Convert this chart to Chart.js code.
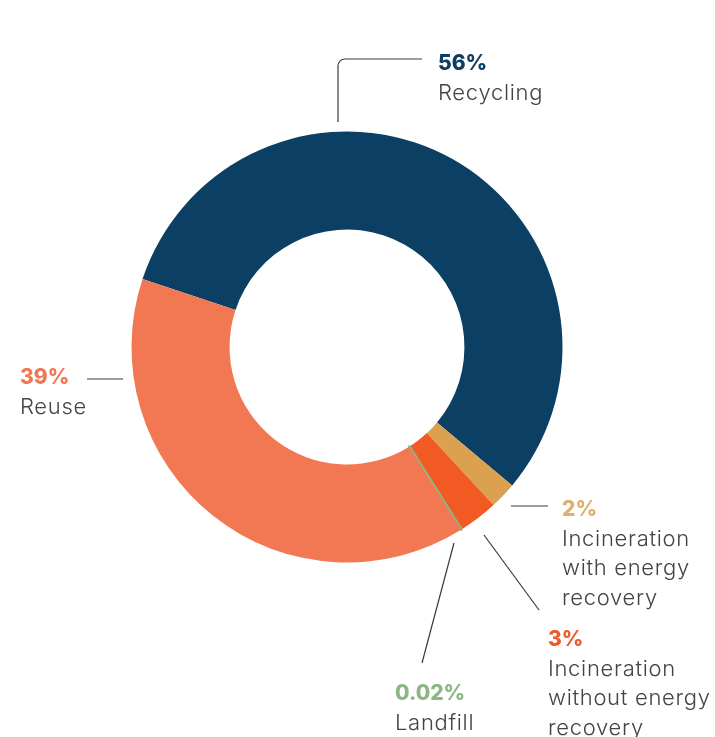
<!DOCTYPE html>
<html>
<head>
<meta charset="utf-8">
<script src="https://cdn.jsdelivr.net/npm/chart.js@4/dist/chart.umd.min.js"></script>
<style>
  html, body { margin: 0; padding: 0; background: #fff; }
  #wrap { width: 715px; height: 737px; }
</style>
</head>
<body>
<div id="wrap"><canvas id="wasteChart" width="715" height="737"></canvas></div>
<script>
// ---------------------------------------------------------------------------
// Data
// ---------------------------------------------------------------------------

const categories  = ['Recycling', 'Incineration with energy recovery',
                     'Incineration without energy recovery', 'Landfill', 'Reuse'];
const shares      = [56, 2, 3, 0.02, 39];
const shareLabels = ['56%', '2%', '3%', '0.02%', '39%'];
const nameLines   = [['Recycling'],
                     ['Incineration', 'with energy', 'recovery'],
                     ['Incineration', 'without energy', 'recovery'],
                     ['Landfill'],
                     ['Reuse']];

// ---------------------------------------------------------------------------
// Styles / layout
// ---------------------------------------------------------------------------

const sliceColors = ['#0b3f63', '#dba050', '#f25a24', '#8db784', '#f27853'];
const labelColors = ['#0d3e62', '#e0ae70', '#f05a28', '#8cb785', '#f07752'];
const FONT = 'Inter, "Open Sans", sans-serif';

// text anchor (baseline of the percentage) and leader line points
const callouts = [
  { at: [438, 70],  line: [[338, 122], [338, 59], [422, 59]] },
  { at: [562, 516], line: [[511, 506], [548, 506]] },
  { at: [548, 646], line: [[484, 535], [539, 610]] },
  { at: [395, 700], line: [[454, 543], [422, 663]] },
  { at: [20, 384],  line: [[87, 379], [123, 379]] }
];

const calloutPlugin = {
  id: 'callouts',
  afterDraw(chart) {
    const ctx = chart.ctx;
    ctx.save();
    callouts.forEach(function (c, i) {
      // leader line
      ctx.strokeStyle = '#3a3a3a';
      ctx.lineWidth = 1.2;
      ctx.beginPath();
      const pts = c.line;
      ctx.moveTo(pts[0][0], pts[0][1]);
      for (let k = 1; k < pts.length; k++) {
        if (k < pts.length - 1) {
          ctx.arcTo(pts[k][0], pts[k][1], pts[k + 1][0], pts[k + 1][1], 7);
        } else {
          ctx.lineTo(pts[k][0], pts[k][1]);
        }
      }
      ctx.stroke();

      // labels
      ctx.textAlign = 'left';
      ctx.textBaseline = 'alphabetic';
      ctx.letterSpacing = '0px';
      ctx.fillStyle = labelColors[i];
      ctx.font = '800 21px ' + FONT;
      ctx.fillText(shareLabels[i], c.at[0], c.at[1]);
      ctx.fillStyle = '#444444';
      ctx.font = '300 22px ' + FONT;
      ctx.letterSpacing = '0.7px';
      nameLines[i].forEach(function (t, j) {
        ctx.fillText(t, c.at[0], c.at[1] + 30 + j * 29.3);
      });
    });
    ctx.restore();
  }
};

new Chart(document.getElementById('wasteChart').getContext('2d'), {
  type: 'doughnut',
  data: {
    labels: categories,
    datasets: [{
      data: shares,
      backgroundColor: sliceColors,
      borderColor: sliceColors,
      borderWidth: [0, 0, 0, 3, 0]
    }]
  },
  options: {
    responsive: false,
    animation: false,
    rotation: -71.6,
    cutout: '54.5%',
    layout: { padding: { left: 130, right: 151, top: 130, bottom: 173 } },
    plugins: {
      legend: { display: false },
      tooltip: { enabled: false }
    }
  },
  plugins: [calloutPlugin]
});
</script>
</body>
</html>
